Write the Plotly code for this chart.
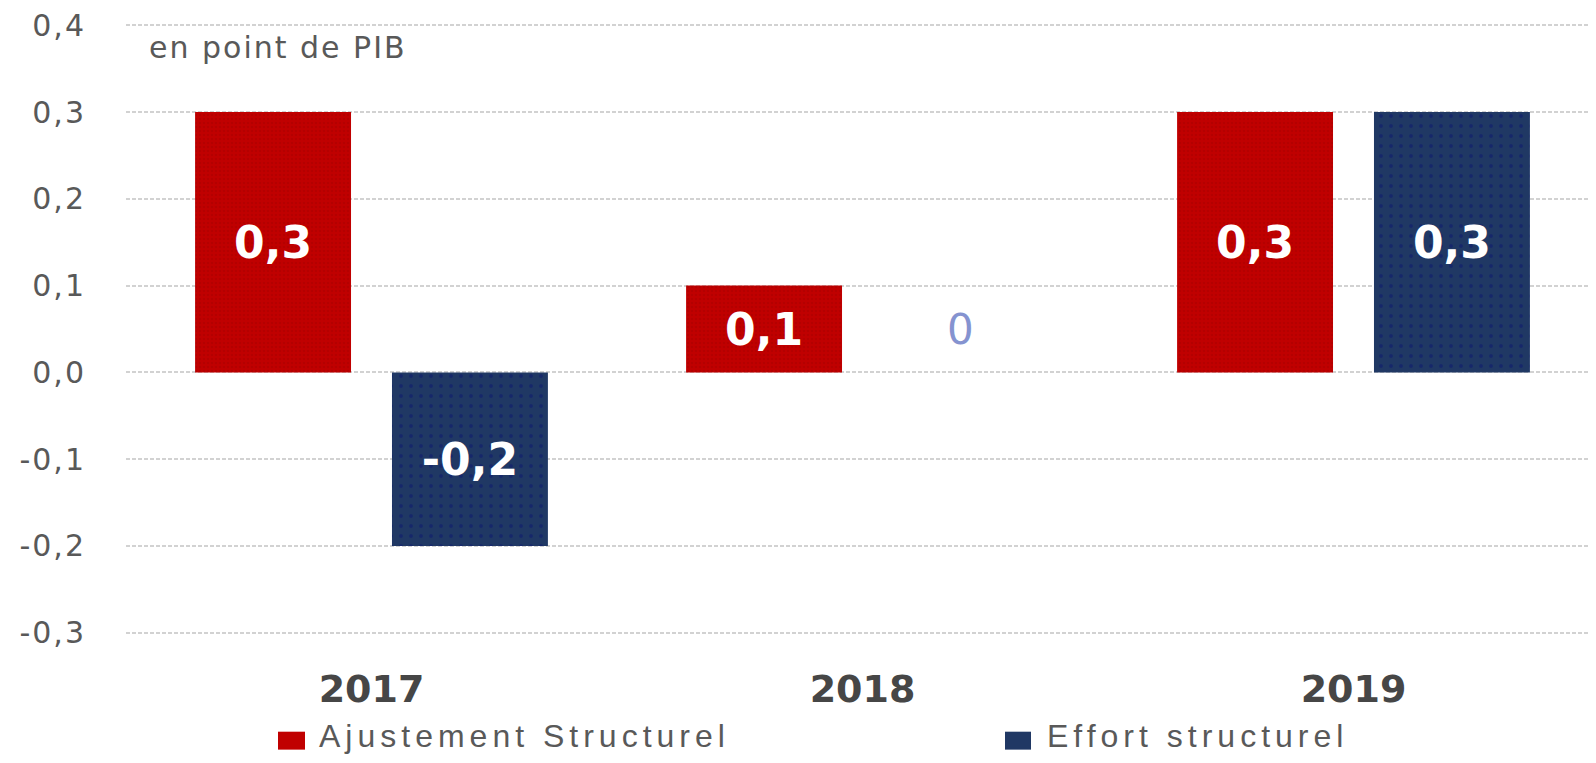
import plotly.graph_objects as go

# ---- data ----
years = ["2017", "2018", "2019"]
ajustement = [0.3, 0.1, 0.3]
effort = [-0.2, 0.0, 0.3]
series_names = ["Ajustement Structurel", "Effort structurel"]
y_tickvals = [0.4, 0.3, 0.2, 0.1, 0.0, -0.1, -0.2, -0.3]
y_ticktext = ["0,4", "0,3", "0,2", "0,1", "0,0", "-0,1", "-0,2", "-0,3"]
unit_label = "en point de PIB"

RED = "#c00000"
BLUE = "#203864"
GRAY = "#595959"

# page has an 8px body margin: figure is sized to fit the window without scrollbars
OFF = 8
FIG_W, FIG_H = 1580, 747
M_L, M_T, M_B = 118, 11, 118
PLOT_W = FIG_W - M_L
CAT_W = 491.0
Y_RANGE = [-0.305, 0.405]

PLOT_TOP = OFF + M_T
PLOT_BOT = OFF + FIG_H - M_B


def fmt(v):
    return f"{v:.1f}".replace(".", ",")


def px(screen_x):
    return (screen_x - (OFF + M_L)) / PLOT_W


def py(screen_y):
    return (PLOT_BOT - screen_y) / (PLOT_BOT - PLOT_TOP)


fig = go.Figure()
fig.add_trace(go.Bar(
    x=years, y=ajustement, name=series_names[0],
    marker=dict(color=RED, line=dict(width=0),
                pattern=dict(shape=".", bgcolor=RED, fgcolor="#a80000", size=4, solidity=0.35)),
    text=[fmt(v) if v != 0 else "" for v in ajustement],
    textposition="inside", insidetextanchor="middle", textangle=0,
    textfont=dict(family="DejaVu Sans", size=44, color="white", weight="bold"),
    showlegend=False, hoverinfo="skip",
))
fig.add_trace(go.Bar(
    x=years, y=effort, name=series_names[1],
    marker=dict(color=BLUE, line=dict(width=0),
                pattern=dict(shape=".", bgcolor=BLUE, fgcolor="#0c1670", size=10, solidity=0.12)),
    text=[fmt(v) if v != 0 else "" for v in effort],
    textposition="inside", insidetextanchor="middle", textangle=0,
    textfont=dict(family="DejaVu Sans", size=44, color="white", weight="bold"),
    showlegend=False, hoverinfo="skip",
))

annotations = []
# zero-valued labels (a zero-height bar shows no inside text)
for i, v in enumerate(effort):
    if v == 0:
        annotations.append(dict(
            x=i, y=0.05, xref="x", yref="y", text="0", showarrow=False,
            xshift=98, font=dict(family="DejaVu Sans", size=42, color="#8593d0"),
        ))
for i, v in enumerate(ajustement):
    if v == 0:
        annotations.append(dict(
            x=i, y=0.05, xref="x", yref="y", text="0", showarrow=False,
            xshift=-98, font=dict(family="DejaVu Sans", size=42, color="#e08080"),
        ))

annotations.append(dict(
    x=px(147), y=py(46), xref="paper", yref="paper", xanchor="left", yanchor="middle",
    text=f'<span style="letter-spacing:2px">{unit_label}</span>', showarrow=False,
    font=dict(family="DejaVu Sans", size=30, color=GRAY),
))

# legend (manual, large swatches)
legend_specs = [(series_names[0], RED, 278, 305, 317),
                (series_names[1], BLUE, 1005, 1031, 1045)]
shapes = []
for name, col, x0, x1, xt in legend_specs:
    shapes.append(dict(type="rect", xref="paper", yref="paper", x0=px(x0), x1=px(x1),
                       y0=py(750), y1=py(732), fillcolor=col, line=dict(width=0)))
    annotations.append(dict(
        x=px(xt), y=py(736), xref="paper", yref="paper", xanchor="left", yanchor="middle",
        text=f'<span style="letter-spacing:5px">{name}</span>', showarrow=False,
        font=dict(family="Liberation Sans", size=32, color=GRAY),
    ))

fig.update_layout(
    width=FIG_W, height=FIG_H,
    margin=dict(l=M_L, r=0, t=M_T, b=M_B),
    paper_bgcolor="white", plot_bgcolor="white",
    barmode="group", bargap=0.198, bargroupgap=0.208,
    annotations=annotations, shapes=shapes,
    xaxis=dict(type="category", range=[-0.5, -0.5 + PLOT_W / CAT_W], showgrid=False,
               zeroline=False, showline=False, ticks="", ticklabelstandoff=26,
               tickfont=dict(family="DejaVu Sans", size=38, color="#464646", weight="bold")),
    yaxis=dict(range=Y_RANGE, tickvals=y_tickvals,
               ticktext=[f'<span style="letter-spacing:2px">{t}</span>' for t in y_ticktext],
               showgrid=True, gridcolor="#d2d2d2", gridwidth=2, griddash="4px,2px",
               zeroline=False, showline=False, ticks="", ticklabelstandoff=39,
               ticklabeloverflow="allow",
               tickfont=dict(family="DejaVu Sans", size=30, color=GRAY)),
    showlegend=False,
)

fig.write_html("out.html")
